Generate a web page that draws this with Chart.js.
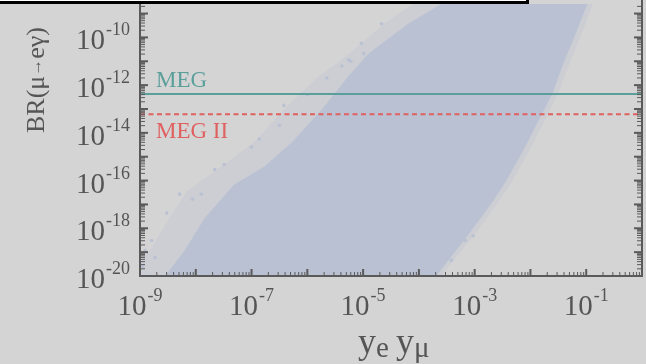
<!DOCTYPE html>
<html>
<head>
<meta charset="utf-8">
<script src="https://cdn.jsdelivr.net/npm/chart.js@4.4.1/dist/chart.umd.min.js"></script>
<style>
  html, body { margin: 0; padding: 0; background: #d4d4d4; overflow: hidden; }
  #wrap { position: relative; width: 646px; height: 364px; }
  #box { position: absolute; left: -4px; top: -48px; width: 533px; height: 52px;
         box-sizing: border-box; border: 3px solid #000; background: #fff; }
</style>
</head>
<body>
<div id="wrap">
  <canvas id="chart" width="646" height="364"></canvas>
  <div id="box"></div>
</div>
<script>
// Axis ranges (log10)
const xRangeExp = [-9, 0];
const yRangeExp = [-20, -8.6];
const xLabelExp = [-9, -7, -5, -3, -1];
const yLabelExp = [-20, -18, -16, -14, -12, -10];

// Experimental limits on BR(mu -> e gamma)
const megLimit = 4.2e-13;
const meg2Limit = 6e-14;

// Scan region (log10 of y_e*y_mu, log10 of BR)
// dense part: upper-left edge then lower-right edge
const denseEdgeX = [-8.75, -8.55, -8.2, -7.84, -7.31, -6.77, -6.27, -5.74, -5.26, -4.9, -4.19, -3.6, -3.3,
                    -0.85, -0.98, -1.21, -1.41, -1.6, -1.87, -2.14, -2.44, -2.67, -3.06, -3.69, -3.85];
const denseEdgeY = [-20.6, -20, -18.93, -17.57, -16.16, -15.41, -14.38, -13.02, -11.62, -10.67, -9.43, -8.6, -8.0,
                    -8.0, -8.6, -9.96, -11.08, -12.32, -13.56, -14.79, -16.03, -16.86, -18.1, -20, -20.6];
// sparse fringe round the dense part
const fringeEdgeX = [-9.2, -9.0, -8.82, -8.47, -8.16, -7.54, -6.95, -6.42, -5.79, -5.35, -4.99, -4.63, -4.1, -3.8,
                     -0.75, -0.88, -1.1, -1.3, -1.5, -1.76, -2.03, -2.33, -2.56, -2.95, -3.6, -3.75];
const fringeEdgeY = [-20.6, -19.42, -18.93, -17.56, -16.45, -15.41, -14.38, -13.02, -11.61, -10.87, -10.17, -9.43, -8.6, -8.0,
                     -8.0, -8.6, -9.96, -11.08, -12.32, -13.56, -14.79, -16.03, -16.86, -18.1, -20, -20.6];
// stray points outside the dense part
const strayX = [-8.29, -8.52, -7.66, -7.49, -8.79, -8.91, -8.73, -8.95, -8.06, -7.9, -7.0, -6.42, -6.0,
                -5.65, -5.26, -4.99, -6.86, -6.5, -5.38, -5.03, -4.67, -5.22, -3.78, -3.42, -3.17, -3.03];
const strayY = [-16.57, -17.36, -15.54, -15.33, -18.51, -18.93, -19.22, -19.59, -16.78, -16.57, -14.59, -12.85, -12.4,
                -11.7, -10.95, -10.67, -14.26, -13.68, -11.2, -10.25, -9.43, -11.0, -19.42, -19.34, -18.51, -18.31];

const pow10 = e => Math.pow(10, e);
const toPoints = (xs, ys) => xs.map((v, i) => ({ x: pow10(v), y: pow10(ys[i]) }));

const bgColor = '#d4d4d4';
const cloudColor = '#bac1d3';
const fringeColor = '#ccced4';
const axisColor = '#5a5a5a';
const textColor = '#555555';
const megColor = '#5b9f9b';
const meg2Color = '#e05f5f';
const serif = '"Liberation Serif", "DejaVu Serif", serif';

// Draws the frame, inward ticks, power-of-ten labels and annotations
const framePlugin = {
    id: 'frame',
    beforeDraw(chart) {
        const { ctx, width, height } = chart;
        ctx.save();
        ctx.fillStyle = bgColor;
        ctx.fillRect(0, 0, width, height);
        ctx.restore();
    },
    afterDraw(chart) {
        const { ctx, chartArea: a } = chart;
        const xs = chart.scales.x, ys = chart.scales.y;
        ctx.save();

        // annotations
        ctx.font = '23px ' + serif;
        ctx.textAlign = 'left';
        ctx.textBaseline = 'alphabetic';
        ctx.fillStyle = megColor;
        ctx.fillText('MEG', a.left + 16, ys.getPixelForValue(megLimit) - 7);
        ctx.fillStyle = meg2Color;
        ctx.fillText('MEG II', a.left + 16, ys.getPixelForValue(meg2Limit) + 24);

        // ticks
        ctx.strokeStyle = axisColor;
        const tick = (x1, y1, x2, y2, w) => {
            ctx.lineWidth = w;
            ctx.beginPath(); ctx.moveTo(x1, y1); ctx.lineTo(x2, y2); ctx.stroke();
        };
        for (let d = xRangeExp[0]; d <= xRangeExp[1]; d++) {
            const px = xs.getPixelForValue(pow10(d));
            tick(px, a.bottom, px, a.bottom - 7, 2);
            if (d === xRangeExp[1]) break;
            for (let m = 2; m <= 9; m++) {
                const mx = xs.getPixelForValue(m * pow10(d));
                tick(mx, a.bottom, mx, a.bottom - 4, 1);
            }
        }
        for (let d = yRangeExp[0]; d <= Math.floor(yRangeExp[1]) + 1; d++) {
            const py = ys.getPixelForValue(pow10(d));
            if (py >= a.top - 1) {
                tick(a.left, py, a.left + 8, py, 2);
                tick(a.right, py, a.right - 8, py, 2);
            }
            for (let m = 2; m <= 9; m++) {
                const my = ys.getPixelForValue(m * pow10(d));
                if (my < a.top) continue;
                tick(a.left, my, a.left + 5, my, 1);
                tick(a.right, my, a.right - 5, my, 1);
            }
        }

        // frame
        ctx.lineWidth = 2;
        ctx.beginPath();
        ctx.moveTo(a.left, a.top - 5);
        ctx.lineTo(a.left, a.bottom);
        ctx.lineTo(a.right, a.bottom);
        ctx.lineTo(a.right, a.top - 5);
        ctx.stroke();

        // tick labels 10^n
        ctx.fillStyle = textColor;
        const baseFont = '29px ' + serif, supFont = '18px ' + serif;
        const measure = (s, f) => { ctx.font = f; return ctx.measureText(s).width; };
        const power = (n, left, baseline) => {
            const w1 = measure('10', baseFont);
            ctx.font = baseFont; ctx.textAlign = 'left';
            ctx.fillText('10', left, baseline);
            ctx.font = supFont;
            ctx.fillText(String(n), left + w1 + 1, baseline - 14);
        };
        const powerWidth = n => measure('10', baseFont) + 1 + measure(String(n), supFont);
        xLabelExp.forEach(n => {
            const px = xs.getPixelForValue(pow10(n));
            power(n, px - powerWidth(n) / 2, a.bottom + 39);
        });
        yLabelExp.forEach(n => {
            const py = ys.getPixelForValue(pow10(n));
            power(n, a.left - 10 - powerWidth(n), py + 12);
        });

        // y title, drawn in pieces so the arrow stays compact
        const titleParts = [['BR(\u03bc', '26px '], ['\u2192', '17px '], ['e\u03b3)', '26px ']];
        const titleW = titleParts.reduce((s, p) => s + measure(p[0], p[1] + serif), 0);
        ctx.save();
        ctx.translate(37, 80);
        ctx.rotate(-Math.PI / 2);
        ctx.textAlign = 'left';
        ctx.textBaseline = 'middle';
        let ty = -titleW / 2;
        titleParts.forEach(p => {
            ctx.font = p[1] + serif;
            ctx.fillText(p[0], ty, 0);
            ty += ctx.measureText(p[0]).width;
        });
        ctx.restore();

        // x title
        ctx.textAlign = 'left';
        ctx.textBaseline = 'alphabetic';
        const titleY = a.bottom + 77;
        let tx = 358;
        ctx.font = '36px ' + serif;
        ctx.fillText('y', tx, titleY); tx += ctx.measureText('y').width;
        ctx.font = '29px ' + serif;
        ctx.fillText('e', tx, titleY + 4); tx += ctx.measureText('e ').width;
        ctx.font = '36px ' + serif;
        ctx.fillText('y', tx, titleY); tx += ctx.measureText('y').width;
        ctx.font = '29px ' + serif;
        ctx.fillText('\u03bc', tx, titleY + 4);

        ctx.restore();
    }
};

new Chart(document.getElementById('chart'), {
    type: 'line',
    data: {
        datasets: [
            {
                label: 'MEG',
                data: [{ x: pow10(xRangeExp[0]), y: megLimit }, { x: pow10(xRangeExp[1]), y: megLimit }],
                borderColor: megColor, borderWidth: 2, pointRadius: 0, order: 0
            },
            {
                label: 'MEG II',
                data: [{ x: pow10(xRangeExp[0]), y: meg2Limit }, { x: pow10(xRangeExp[1]), y: meg2Limit }],
                borderColor: meg2Color, borderWidth: 2, borderDash: [5, 3.5], pointRadius: 0, order: 0
            },
            {
                label: 'stray',
                data: toPoints(strayX, strayY),
                showLine: false, pointRadius: 1.8, pointBorderWidth: 0,
                pointBackgroundColor: cloudColor, order: 1
            },
            {
                label: 'dense',
                data: toPoints(denseEdgeX, denseEdgeY),
                borderColor: 'transparent', borderWidth: 0, backgroundColor: cloudColor,
                fill: 'shape', pointRadius: 0, tension: 0, order: 2
            },
            {
                label: 'fringe',
                data: toPoints(fringeEdgeX, fringeEdgeY),
                borderColor: 'transparent', borderWidth: 0, backgroundColor: fringeColor,
                fill: 'shape', pointRadius: 0, tension: 0, order: 3
            }
        ]
    },
    options: {
        responsive: false,
        animation: false,
        devicePixelRatio: 1,
        layout: { padding: { left: 140, right: 1, top: 0, bottom: 88 } },
        plugins: { legend: { display: false }, tooltip: { enabled: false } },
        scales: {
            x: { type: 'logarithmic', display: false, min: pow10(xRangeExp[0]), max: pow10(xRangeExp[1]) },
            y: { type: 'logarithmic', display: false, min: pow10(yRangeExp[0]), max: pow10(yRangeExp[1]) }
        }
    },
    plugins: [framePlugin]
});
</script>
</body>
</html>
